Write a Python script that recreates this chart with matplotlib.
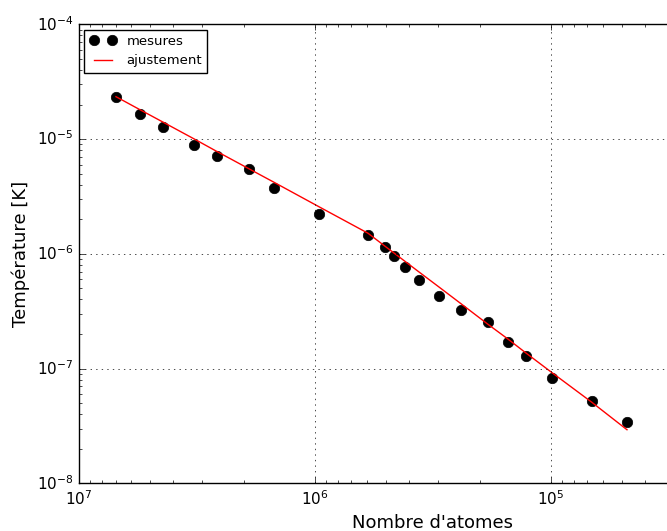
import matplotlib
matplotlib.use("Agg")
import matplotlib.pyplot as plt
import numpy as np

plt.style.use('classic')

# Data
atomes = [6.97e6, 5.51e6, 4.39e6, 3.24e6, 2.61e6, 1.91e6, 1.49e6, 9.57e5,
          5.95e5, 5.03e5, 4.60e5, 4.14e5, 3.63e5, 2.99e5, 2.40e5, 1.85e5,
          1.52e5, 1.27e5, 9.92e4, 6.71e4, 4.75e4]
temperature = [2.34e-5, 1.66e-5, 1.27e-5, 8.82e-6, 7.08e-6, 5.48e-6, 3.74e-6,
               2.21e-6, 1.46e-6, 1.15e-6, 9.62e-7, 7.63e-7, 5.93e-7, 4.29e-7,
               3.21e-7, 2.54e-7, 1.71e-7, 1.28e-7, 8.22e-8, 5.25e-8, 3.42e-8]
ajustement = [2.34e-5, 1.80e-5, 1.40e-5, 9.99e-6, 7.82e-6, 5.53e-6, 4.20e-6,
              2.56e-6, 1.51e-6, 1.16e-6, 1.01e-6, 8.57e-7, 6.98e-7, 5.17e-7,
              3.67e-7, 2.44e-7, 1.81e-7, 1.36e-7, 9.27e-8, 5.10e-8, 2.93e-8]

fig = plt.figure(figsize=(6.67, 5.31), dpi=100, facecolor='white')
ax = fig.add_axes([79/667, (531-483.3)/531, 707.6/667, 459/531])

ax.plot(atomes, temperature, 'o', color='black', markeredgecolor='black',
        markersize=7.5, label='mesures')
ax.plot(atomes, ajustement, '-', color='red', linewidth=1.0, label='ajustement')

ax.set_xscale('log')
ax.set_yscale('log')
ax.set_xlim(1e7, 1e4)
ax.set_ylim(1e-8, 1e-4)
ax.grid(True, which='major', linestyle=':', color='black')

ax.tick_params(axis='both', which='major', labelsize=11)
ax.set_xlabel("Nombre d'atomes", fontsize=13)
ax.set_ylabel("Température [K]", fontsize=13)

leg = ax.legend(loc='upper left', numpoints=2, fontsize=9.5,
                handlelength=2.0, borderaxespad=0.4)

fig.savefig('out.png', dpi=100, facecolor='white')
